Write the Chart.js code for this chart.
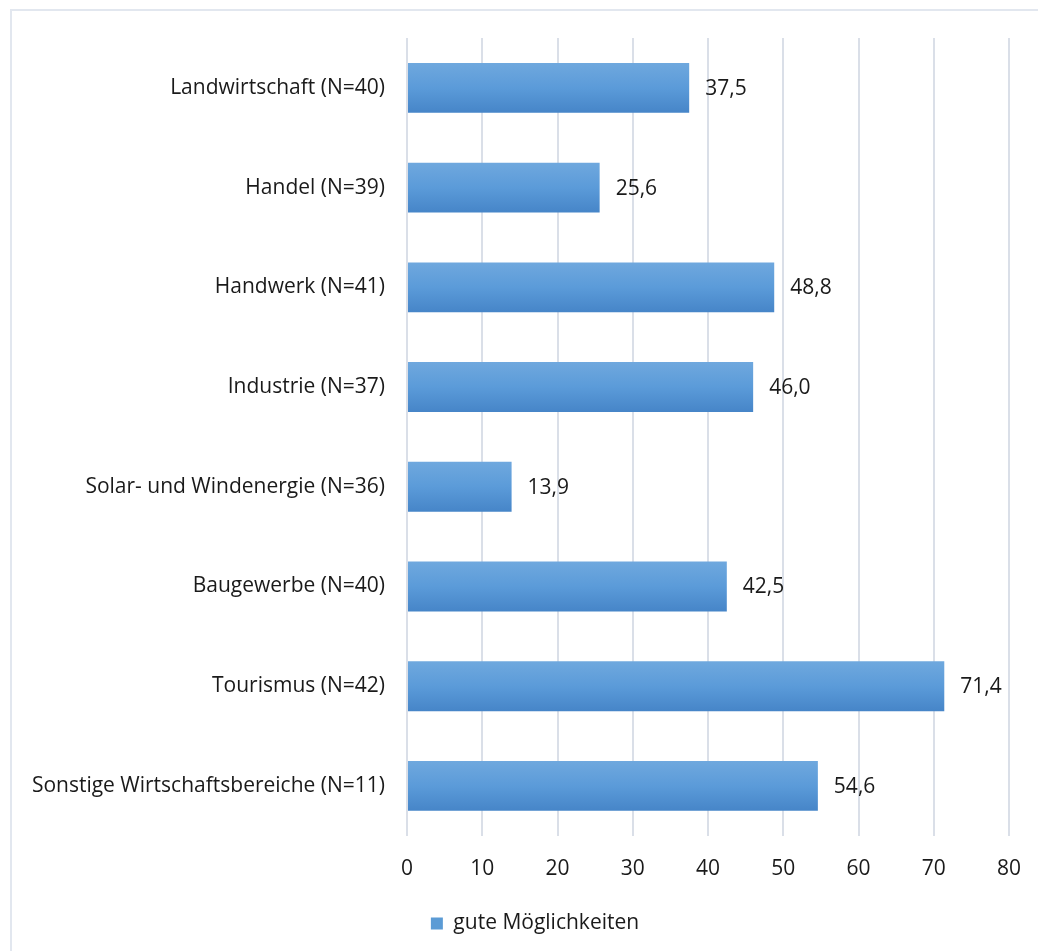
<!DOCTYPE html>
<html>
<head>
<meta charset="utf-8">
<script src="https://cdn.jsdelivr.net/npm/chart.js@4"></script>
<style>
  html, body { margin: 0; padding: 0; background: #fff; overflow: hidden; }
  .frame {
    position: absolute; left: 10px; top: 9px; width: 1100px; height: 1000px;
    border-left: 2px solid #e2e7ef; border-top: 2px solid #e2e7ef;
  }
  .wrap { position: absolute; left: 0; top: 0; width: 1038px; height: 951px; }
</style>
</head>
<body>
<div class="frame"></div>
<div class="wrap"><canvas id="myChart"></canvas></div>
<script>
const categories = [
  'Landwirtschaft (N=40)',
  'Handel (N=39)',
  'Handwerk (N=41)',
  'Industrie (N=37)',
  'Solar- und Windenergie (N=36)',
  'Baugewerbe (N=40)',
  'Tourismus (N=42)',
  'Sonstige Wirtschaftsbereiche (N=11)'
]
const guteMoeglichkeiten = [37.5, 25.6, 48.8, 46.0, 13.9, 42.5, 71.4, 54.6]
const seriesName = 'gute Möglichkeiten'
const xTicks = [0, 10, 20, 30, 40, 50, 60, 70, 80]

const fontFamily = '"Open Sans", "Noto Sans", sans-serif'
const fontSize = 21
const textColor = '#1a1a1a'

// gradient per bar, lighter at the top
function barFill(context) {
    const chart = context.chart
    const yScale = chart.scales.y
    if (!yScale || context.dataIndex === undefined) return '#5b9bd5'
    const center = yScale.getPixelForValue(context.dataIndex)
    if (!isFinite(center)) return '#5b9bd5'
    const half = 25
    const g = chart.ctx.createLinearGradient(0, center - half, 0, center + half)
    g.addColorStop(0, '#6fa8de')
    g.addColorStop(0.5, '#5b9bd9')
    g.addColorStop(1, '#4685c8')
    return g
}

const valueLabels = {
    id: 'valueLabels',
    afterDatasetsDraw(chart) {
        const ctx = chart.ctx
        const meta = chart.getDatasetMeta(0)
        ctx.save()
        ctx.font = fontSize + 'px ' + fontFamily
        ctx.fillStyle = textColor
        ctx.textAlign = 'left'
        ctx.textBaseline = 'middle'
        meta.data.forEach((bar, i) => {
            const txt = guteMoeglichkeiten[i].toFixed(1).replace('.', ',')
            ctx.fillText(txt, bar.x + 16, bar.y + 1)
        })
        ctx.restore()
    }
}

const ctx = document.getElementById('myChart')

new Chart(ctx, {
    type: 'bar',
    data: {
        labels: categories,
        datasets: [{
            label: seriesName,
            data: guteMoeglichkeiten,
            backgroundColor: barFill,
            borderWidth: 0,
            categoryPercentage: 0.5,
            barPercentage: 1
        }]
    },
    options: {
        indexAxis: 'y',
        responsive: true,
        maintainAspectRatio: false,
        animation: false,
        layout: {
            // left padding only shifts the legend to the right, y axis width compensates
            padding: { top: 38, right: 0, left: 32, bottom: 7 }
        },
        scales: {
            x: {
                min: 0,
                max: 80,
                afterBuildTicks: (scale) => {
                    scale.ticks = xTicks.map(v => ({ value: v }))
                },
                afterFit: (scale) => { scale.paddingRight = 29 },
                grid: {
                    color: '#dadfe8',
                    lineWidth: 2,
                    drawTicks: false
                },
                border: { display: false },
                ticks: {
                    padding: 21,
                    color: textColor,
                    font: { size: fontSize, family: fontFamily }
                }
            },
            y: {
                afterFit: (scale) => { scale.width = 375 },
                grid: { display: false, drawTicks: false },
                border: { display: false },
                ticks: {
                    padding: 22,
                    color: textColor,
                    font: { size: fontSize, family: fontFamily }
                }
            }
        },
        plugins: {
            legend: {
                position: 'bottom',
                labels: {
                    boxWidth: 12,
                    boxHeight: 12,
                    padding: 10,
                    color: textColor,
                    font: { size: fontSize, family: fontFamily },
                    generateLabels: (chart) => [{
                        text: seriesName,
                        fillStyle: '#5b9bd5',
                        strokeStyle: '#5b9bd5',
                        lineWidth: 0,
                        fontColor: textColor,
                        datasetIndex: 0
                    }]
                }
            },
            tooltip: { enabled: false }
        }
    },
    plugins: [valueLabels]
});
</script>
</body>
</html>
